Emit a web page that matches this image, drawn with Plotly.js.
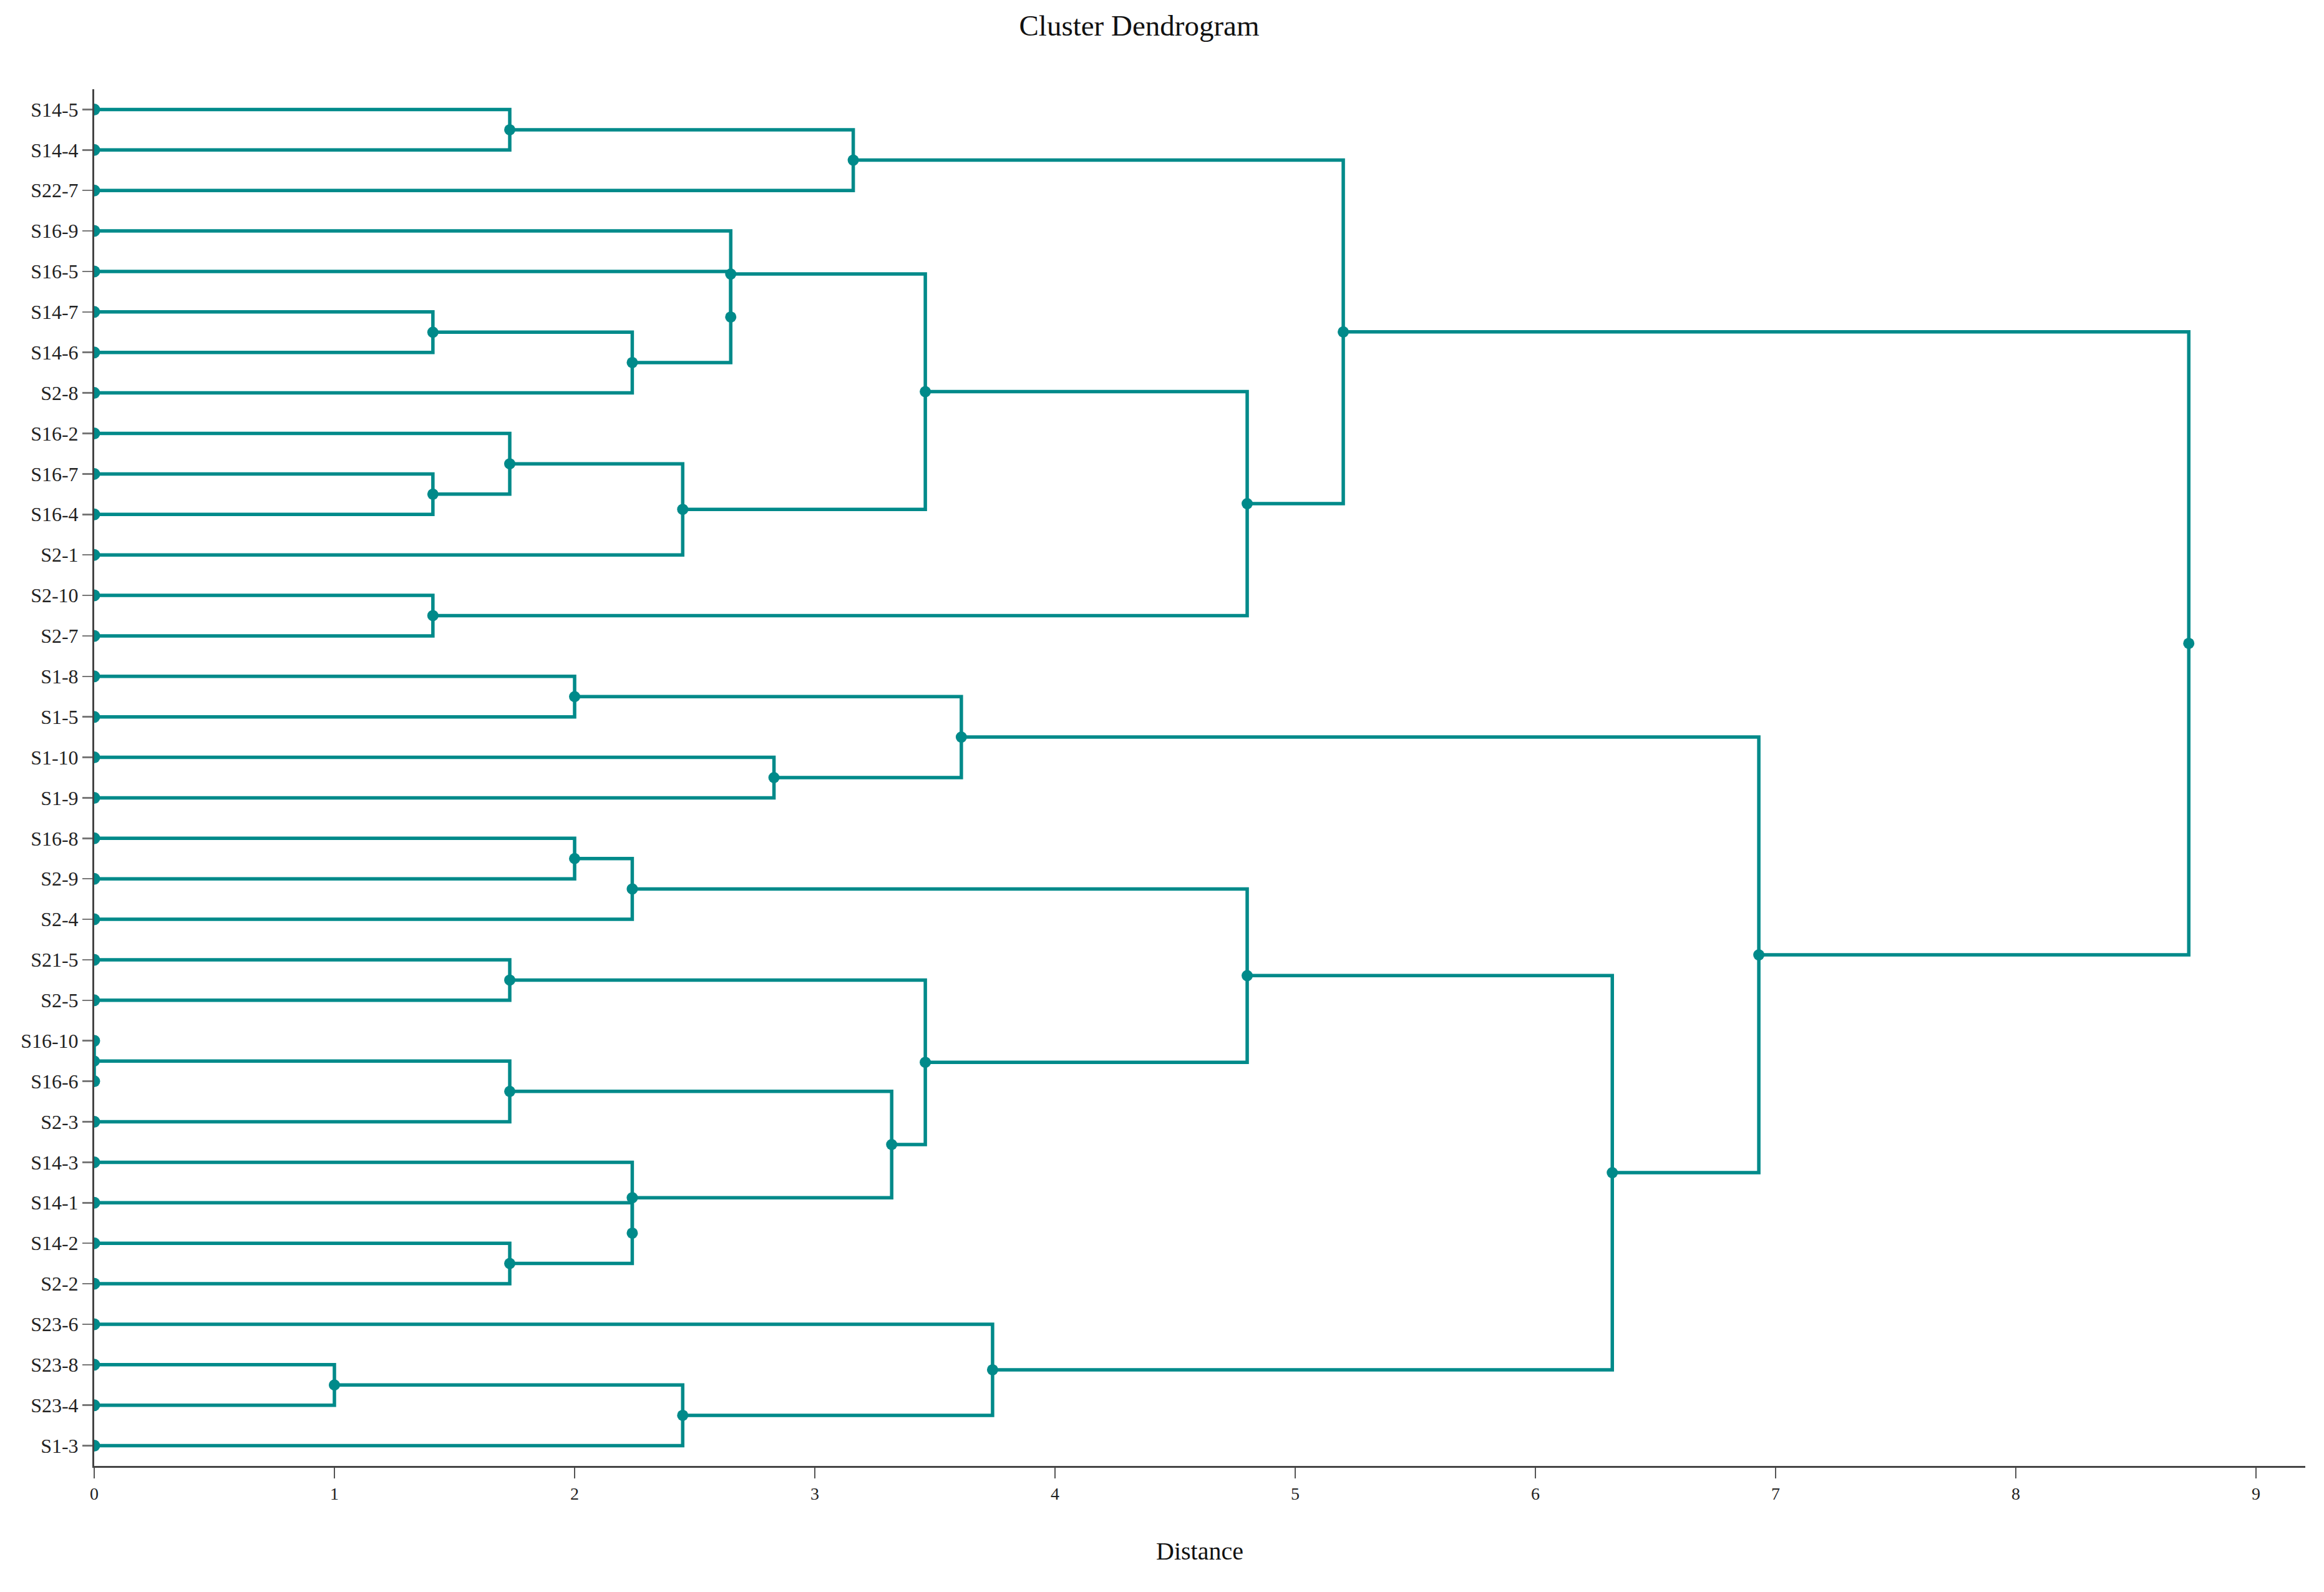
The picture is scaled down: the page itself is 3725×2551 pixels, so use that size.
<!DOCTYPE html>
<html>
<head>
<meta charset="utf-8">
<script src="https://cdn.plot.ly/plotly-3.0.1.min.js"></script>
<style>
html,body{margin:0;padding:0;background:#ffffff;}
#chart{width:3725px;height:2551px;}
</style>
</head>
<body>
<div id="chart"></div>
<script>
// Leaves, top to bottom
const leafLabels = ["S14-5","S14-4","S22-7","S16-9","S16-5","S14-7","S14-6","S2-8",
  "S16-2","S16-7","S16-4","S2-1","S2-10","S2-7","S1-8","S1-5","S1-10","S1-9",
  "S16-8","S2-9","S2-4","S21-5","S2-5","S16-10","S16-6","S2-3","S14-3","S14-1",
  "S14-2","S2-2","S23-6","S23-8","S23-4","S1-3"];

// Merges (node name, its two children, merge distance)
const mergeNames  = ["A","B","C","D","G","H","J","K","L","I","M","N","O",
  "P","Q","R","S","T","U","V","W","X","Y","Z","AA","AB","AC","AD","AE","AF","AG","AH","ROOT"];
const mergeLeft   = ["S14-5","A","S14-7","C","S16-5","S16-9","S16-7","S16-2","K","H","S2-10","I","B",
  "S1-8","S1-10","P","S16-8","S","S21-5","S16-10","V","S14-2","S14-1","S14-3","W","U","T","S23-8","AD","S23-6","AC","R","O"];
const mergeRight  = ["S14-4","S22-7","S14-6","S2-8","D","G","S16-4","J","S2-1","L","S2-7","M","N",
  "S1-5","S1-9","Q","S2-9","S2-4","S2-5","S16-6","S2-3","S2-2","X","Y","Z","AA","AB","S23-4","S1-3","AE","AF","AG","AH"];
const mergeHeights = [1.73,3.16,1.41,2.24,2.65,2.65,1.41,1.73,2.45,3.46,1.41,4.80,5.20,
  2.00,2.83,3.61,2.00,2.24,1.73,0.00,1.73,1.73,2.24,2.24,3.32,3.46,4.80,1.00,2.45,3.74,6.32,6.93,8.72];

const xTickValues = [0,1,2,3,4,5,6,7,8,9];

const pos = {};
leafLabels.forEach((n, i) => { pos[n] = {x: 0, y: i}; });
const lineX = [], lineY = [], nodeX = [], nodeY = [];
mergeNames.forEach((name, k) => {
  const a = pos[mergeLeft[k]], b = pos[mergeRight[k]], h = mergeHeights[k];
  const y = (a.y + b.y) / 2;
  pos[name] = {x: h, y: y};
  lineX.push(a.x, h, h, b.x, null);
  lineY.push(a.y, a.y, b.y, b.y, null);
  nodeX.push(h); nodeY.push(y);
});
const leafX = leafLabels.map(() => 0);
const leafY = leafLabels.map((_, i) => i);

const teal = '#008a8a';
const traces = [
  {type:'scatter', mode:'lines', x: lineX, y: lineY, connectgaps:false,
   line:{color: teal, width:5.5}, hoverinfo:'skip'},
  {type:'scatter', mode:'markers', x: nodeX, y: nodeY,
   marker:{color: teal, size:18, line:{width:0}}, hoverinfo:'skip'},
  {type:'scatter', mode:'markers', x: leafX, y: leafY,
   marker:{color: teal, size:19, line:{width:0}}, hoverinfo:'skip'}
];

const serif = '"Liberation Serif", "Times New Roman", Times, serif';
const layout = {
  width:3725, height:2551,
  margin:{l:151, r:30, t:143, b:202, pad:0},
  paper_bgcolor:'#ffffff', plot_bgcolor:'#ffffff',
  showlegend:false,
  font:{family: serif, color:'#222222'},
  title:{text:'Cluster Dendrogram', font:{family: serif, size:47, color:'#111111'},
    x:0.4902, xref:'container', xanchor:'center', y:1-24/2551, yref:'container', yanchor:'top'},
  xaxis:{range:[0, 9.205], tickmode:'array', tickvals: xTickValues, ticktext: xTickValues.map(String),
    ticks:'outside', ticklen:17, tickwidth:2, tickcolor:'#555555',
    showline:true, linecolor:'#444444', linewidth:3, showgrid:false, zeroline:false,
    tickfont:{family: serif, size:28, color:'#222222'},
    title:{text:'Distance', font:{family: serif, size:40, color:'#111111'}, standoff:64}},
  yaxis:{range:[33.5, -0.5], tickmode:'array', tickvals: leafY, ticktext: leafLabels,
    ticks:'outside', ticklen:16, tickwidth:2.5, tickcolor:'#777777',
    showline:true, linecolor:'#444444', linewidth:3, showgrid:false, zeroline:false,
    tickfont:{family: serif, size:32, color:'#222222'}}
};
Plotly.newPlot('chart', traces, layout, {displayModeBar:false, staticPlot:true});
</script>
</body>
</html>
